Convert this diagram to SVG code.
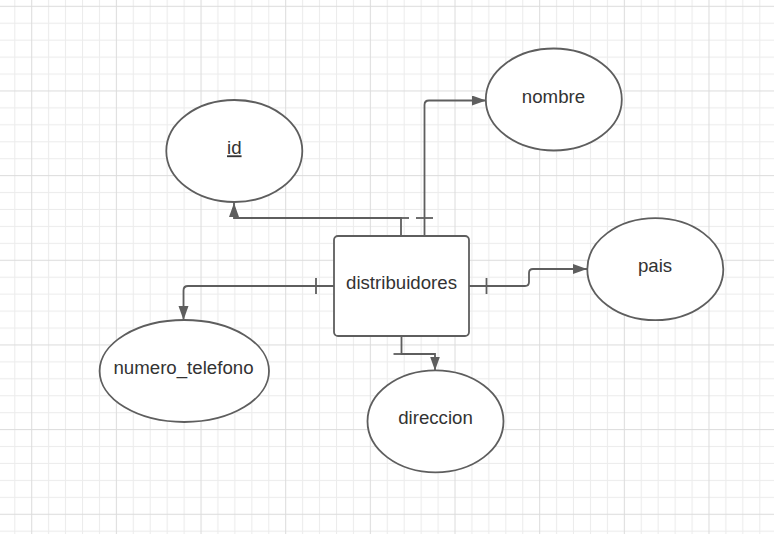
<svg xmlns="http://www.w3.org/2000/svg" width="774" height="534" viewBox="0 0 774 534">
  <defs>
    <pattern id="grid" patternUnits="userSpaceOnUse" x="31.2" y="5.8" width="84.66" height="84.66">
      <rect x="0" y="0" width="84.66" height="84.66" fill="#ffffff"/>
      <g fill="#ececec">
        <rect x="16.93" y="0" width="1" height="84.66"/>
        <rect x="33.86" y="0" width="1" height="84.66"/>
        <rect x="50.8" y="0" width="1" height="84.66"/>
        <rect x="67.73" y="0" width="1" height="84.66"/>
        <rect x="0" y="16.93" width="84.66" height="1"/>
        <rect x="0" y="33.86" width="84.66" height="1"/>
        <rect x="0" y="50.8" width="84.66" height="1"/>
        <rect x="0" y="67.73" width="84.66" height="1"/>
      </g>
      <g fill="#dcdcdc">
        <rect x="0" y="0" width="1" height="84.66"/>
        <rect x="0" y="0" width="84.66" height="1"/>
      </g>
    </pattern>
    <marker id="arrow" markerUnits="userSpaceOnUse" markerWidth="15" markerHeight="11" refX="14" refY="5" orient="auto">
      <path d="M0,0 L14,5 L0,10 z" fill="#5e5e5e"/>
    </marker>
    <style>
      .shape { fill: #ffffff; stroke: #5e5e5e; stroke-width: 1.8; }
      .conn { fill: none; stroke: #5e5e5e; stroke-width: 1.8; }
      .lbl { font-family: "Liberation Sans", Arial, sans-serif; font-size: 18.67px; fill: #333333; text-anchor: middle; }
    </style>
  </defs>

  <rect x="0" y="0" width="774" height="534" fill="url(#grid)"/>

  <g id="connectors">
    <path class="conn" d="M401,236 V218 H234 V203" marker-end="url(#arrow)"/>
    <path class="conn" d="M392.5,218 H409"/>
    <path class="conn" d="M424.5,236 V105 Q424.5,100.5 429,100.5 H486" marker-end="url(#arrow)"/>
    <path class="conn" d="M416,218 H433"/>
    <path class="conn" d="M334,286 H188 Q183.5,286 183.5,290.5 V320" marker-end="url(#arrow)"/>
    <path class="conn" d="M316,278 V294"/>
    <path class="conn" d="M469,286 H525 Q529,286 529,282 V273 Q529,269 533,269 H587" marker-end="url(#arrow)"/>
    <path class="conn" d="M486.5,278 V294"/>
    <path class="conn" d="M401.5,336 V354 H435 V370.5" marker-end="url(#arrow)"/>
    <path class="conn" d="M393.5,354 H409.5"/>
  </g>

  <g id="node-distribuidores">
    <rect class="shape" x="334" y="236" width="135" height="100" rx="4" ry="4"/>
    <text class="lbl" x="401.5" y="289">distribuidores</text>
  </g>

  <g id="node-id">
    <ellipse class="shape" cx="234.3" cy="151" rx="68" ry="51"/>
    <text class="lbl" x="234.3" y="154.3" text-decoration="underline">id</text>
  </g>

  <g id="node-nombre">
    <ellipse class="shape" cx="553.8" cy="99.5" rx="68" ry="51"/>
    <text class="lbl" x="553.5" y="102.7">nombre</text>
  </g>

  <g id="node-pais">
    <ellipse class="shape" cx="655.3" cy="269.2" rx="68" ry="51"/>
    <text class="lbl" x="655" y="272.3">pais</text>
  </g>

  <g id="node-numero_telefono">
    <ellipse class="shape" cx="184.3" cy="371" rx="84.7" ry="51"/>
    <text class="lbl" x="183.5" y="373.5">numero_telefono</text>
  </g>

  <g id="node-direccion">
    <ellipse class="shape" cx="435.5" cy="421.3" rx="68" ry="51"/>
    <text class="lbl" x="435.5" y="424.3">direccion</text>
  </g>
</svg>
